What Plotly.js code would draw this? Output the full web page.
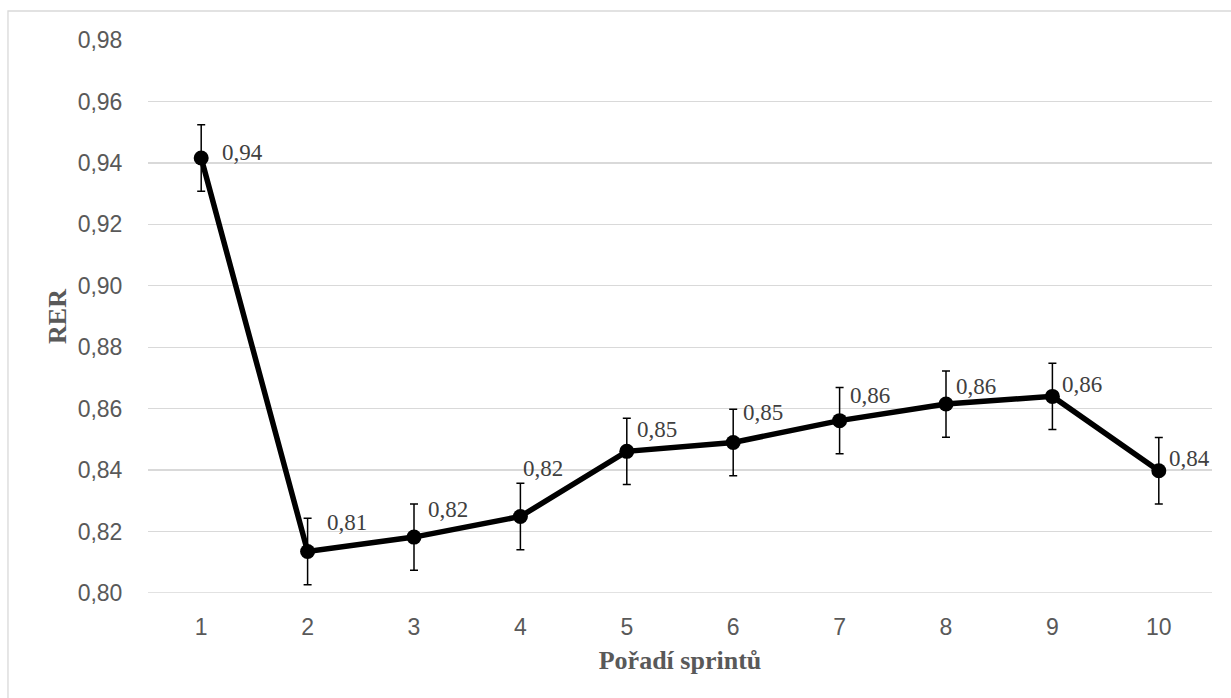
<!DOCTYPE html>
<html>
<head>
<meta charset="utf-8">
<script src="https://cdn.plot.ly/plotly-3.0.1.min.js"></script>
<style>html,body{margin:0;padding:0;background:#fff;}#chart{width:1231px;height:698px;}</style>
</head>
<body>
<div id="chart"></div>
<script>
// Data
const sprints = ["1","2","3","4","5","6","7","8","9","10"];
const rer = [0.9416, 0.8135, 0.8182, 0.8249, 0.8461, 0.8490, 0.8561, 0.8615, 0.8640, 0.8398];
const rerError = [0.0108, 0.0108, 0.0108, 0.0108, 0.0108, 0.0108, 0.0108, 0.0108, 0.0108, 0.0108];
const yTickVals = [0.80, 0.82, 0.84, 0.86, 0.88, 0.90, 0.92, 0.94, 0.96, 0.98];

// Label placement (pixel offsets from each marker, style only)
const labelDx = [19, 17, 12, 1, 8, 8, 8, 8, 8, 8];
const labelDy = [5, 29, 28, 48, 22, 30, 25, 18, 12, 12];

const fmt = v => v.toFixed(2).replace('.', ',');

const trace = {
  x: sprints,
  y: rer,
  type: 'scatter',
  mode: 'lines+markers',
  line: {color: '#000000', width: 5.5},
  marker: {color: '#000000', size: 15},
  error_y: {type: 'data', array: rerError, visible: true, color: '#000000', thickness: 1.5, width: 4},
  hoverinfo: 'skip',
  cliponaxis: false
};

const annotations = sprints.map((s, i) => ({
  x: i, y: rer[i], xref: 'x', yref: 'y',
  text: fmt(rer[i]), showarrow: false,
  xanchor: 'left', yanchor: 'middle',
  xshift: labelDx[i], yshift: labelDy[i],
  font: {family: 'Liberation Serif, Times New Roman, serif', size: 23, color: '#404040'}
}));

const layout = {
  width: 1231, height: 698,
  margin: {l: 148, r: 19, t: 40, b: 105},
  paper_bgcolor: '#ffffff', plot_bgcolor: '#ffffff',
  showlegend: false,
  xaxis: {
    type: 'category',
    range: [-0.5, 9.5],
    showgrid: false,
    showline: false,
    zeroline: false,
    ticks: 'outside', ticklen: 13, tickcolor: 'rgba(0,0,0,0)',
    tickfont: {family: 'Liberation Sans, Arial, sans-serif', size: 23, color: '#595959'},
    title: {text: '<b>Pořadí sprintů</b>', standoff: 12,
      font: {family: 'Liberation Serif, Times New Roman, serif', size: 26, color: '#595959'}}
  },
  yaxis: {
    range: [0.80, 0.98],
    tickvals: yTickVals,
    ticktext: yTickVals.map(fmt),
    showgrid: true, gridcolor: '#d9d9d9', gridwidth: 1.3,
    zeroline: false, showline: false,
    ticks: 'outside', ticklen: 20, tickcolor: 'rgba(0,0,0,0)',
    tickfont: {family: 'Liberation Sans, Arial, sans-serif', size: 23, color: '#595959'},
    title: {text: '<b>RER</b>', standoff: 3,
      font: {family: 'Liberation Serif, Times New Roman, serif', size: 26, color: '#595959'}}
  },
  annotations: annotations,
  shapes: [
    {type: 'line', xref: 'paper', yref: 'y', x0: 0, x1: 1, y0: 0.80, y1: 0.80,
     line: {color: '#d9d9d9', width: 1.3}, layer: 'below'},
    {type: 'rect', xref: 'paper', yref: 'paper', x0: -0.1316, x1: 1.03, y0: -0.25, y1: 1.0524,
     line: {color: '#d9d9d9', width: 1.3}, fillcolor: 'rgba(0,0,0,0)', layer: 'below'}
  ]
};

Plotly.newPlot('chart', [trace], layout, {displayModeBar: false, staticPlot: true});
</script>
</body>
</html>
